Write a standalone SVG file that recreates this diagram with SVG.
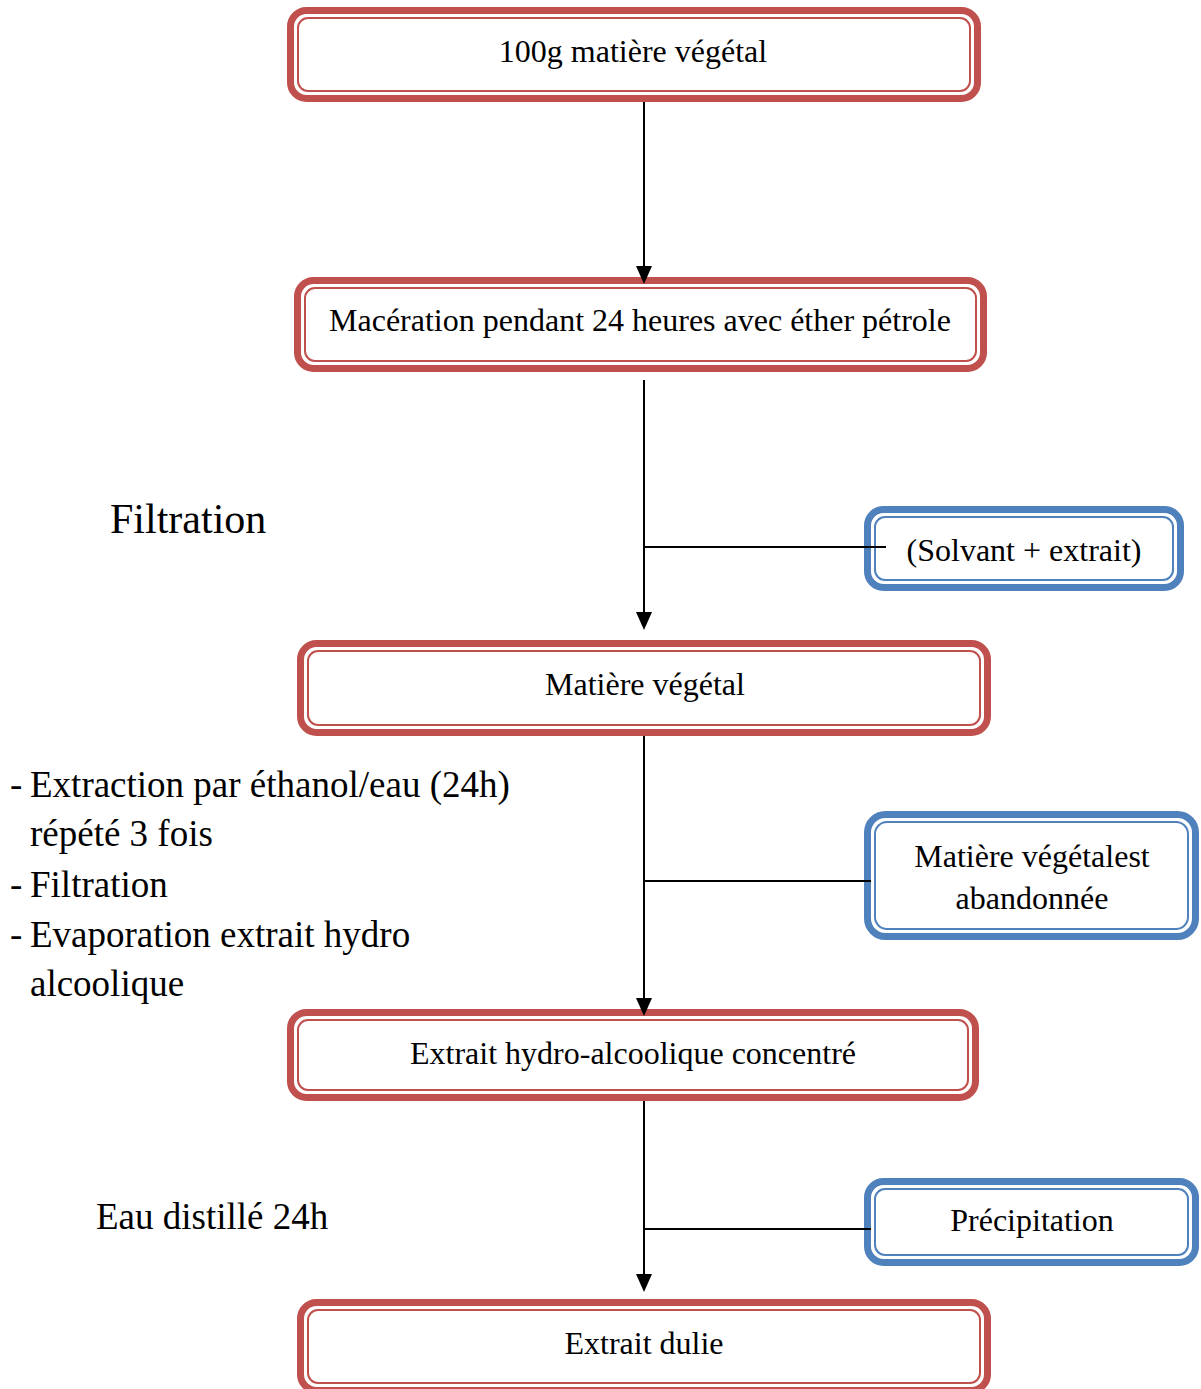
<svg xmlns="http://www.w3.org/2000/svg" width="1201" height="1389" viewBox="0 0 1201 1389">
<defs>
<style>
.ro{fill:#fff;stroke:#C0504D;stroke-width:7}
.ri{fill:none;stroke:#C0504D;stroke-width:2}
.bo{fill:#fff;stroke:#4F81BD;stroke-width:7}
.bi{fill:none;stroke:#4F81BD;stroke-width:2}
.t{font-family:"Liberation Serif","Times New Roman",serif;font-size:32px;fill:#000;text-anchor:middle}
.l{font-family:"Liberation Serif","Times New Roman",serif;font-size:37px;fill:#000}
.c{stroke:#000;stroke-width:2;fill:none}
.ah{fill:#000}
</style>
</defs>
<rect width="1201" height="1389" fill="#fff"/>
<g id="n1">
<rect class="ro" x="290.5" y="10.5" width="687" height="88" rx="16"/>
<rect class="ri" x="298" y="18" width="672" height="73" rx="10"/>
<text class="t" x="633" y="62">100g matière végétal</text>
</g>
<g id="n2">
<rect class="ro" x="297.5" y="280.5" width="686" height="88" rx="16"/>
<rect class="ri" x="305" y="288" width="671" height="73" rx="10"/>
<text class="t" x="640" y="331">Macération pendant 24 heures avec éther pétrole</text>
</g>
<g id="n3">
<rect class="ro" x="300.5" y="643.5" width="687" height="89" rx="16"/>
<rect class="ri" x="308" y="651" width="672" height="74" rx="10"/>
<text class="t" x="645" y="695">Matière végétal</text>
</g>
<g id="n4">
<rect class="ro" x="290.5" y="1012.5" width="685" height="85" rx="16"/>
<rect class="ri" x="298" y="1020" width="670" height="70" rx="10"/>
<text class="t" x="633" y="1064">Extrait hydro-alcoolique concentré</text>
</g>
<g id="n5">
<rect class="ro" x="300.5" y="1302.5" width="687" height="88" rx="16"/>
<rect class="ri" x="308" y="1310" width="672" height="73" rx="10"/>
<text class="t" x="644" y="1354">Extrait dulie</text>
</g>
<g id="b1">
<rect class="bo" x="867.5" y="509.5" width="313" height="78" rx="16"/>
<rect class="bi" x="875" y="517" width="298" height="63" rx="10"/>
<text class="t" x="1024" y="561">(Solvant + extrait)</text>
</g>
<g id="b2">
<rect class="bo" x="867.5" y="814.5" width="328" height="122" rx="18"/>
<rect class="bi" x="875" y="822" width="313" height="107" rx="12"/>
<text class="t" x="1032" y="867">Matière végétalest</text>
<text class="t" x="1032" y="909">abandonnée</text>
</g>
<g id="b3">
<rect class="bo" x="867.5" y="1181.5" width="328" height="81" rx="16"/>
<rect class="bi" x="875" y="1189" width="313" height="66" rx="10"/>
<text class="t" x="1032" y="1231">Précipitation</text>
</g>
<g id="connectors">
<line class="c" x1="644" y1="102" x2="644" y2="268"/>
<polygon class="ah" points="636,266 652,266 644,284"/>
<line class="c" x1="644" y1="380" x2="644" y2="614"/>
<polygon class="ah" points="636,612 652,612 644,630"/>
<line class="c" x1="644" y1="547" x2="886" y2="547"/>
<line class="c" x1="644" y1="736" x2="644" y2="1000"/>
<polygon class="ah" points="636,998 652,998 644,1016"/>
<line class="c" x1="644" y1="881" x2="871" y2="881"/>
<line class="c" x1="644" y1="1101" x2="644" y2="1276"/>
<polygon class="ah" points="636,1274 652,1274 644,1292"/>
<line class="c" x1="644" y1="1229" x2="871" y2="1229"/>
</g>
<g id="labels">
<text class="l" x="110" y="533" style="font-size:42px">Filtration</text>
<text class="l" x="10" y="797">-</text>
<text class="l" x="30" y="797">Extraction par éthanol/eau (24h)</text>
<text class="l" x="30" y="846">répété 3 fois</text>
<text class="l" x="10" y="897">-</text>
<text class="l" x="30" y="897">Filtration</text>
<text class="l" x="10" y="947">-</text>
<text class="l" x="30" y="947">Evaporation extrait hydro</text>
<text class="l" x="30" y="996">alcoolique</text>
<text class="l" x="96" y="1229">Eau distillé 24h</text>
</g>
</svg>
